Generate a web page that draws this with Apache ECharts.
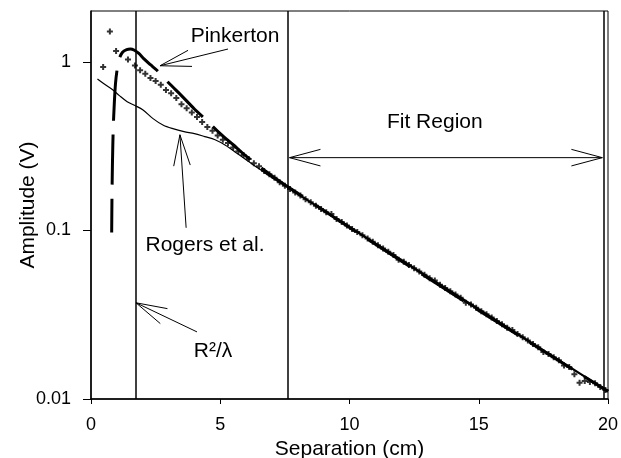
<!DOCTYPE html>
<html>
<head>
<meta charset="utf-8">
<script src="https://cdn.jsdelivr.net/npm/echarts@6/dist/echarts.min.js"></script>
<style>
  html, body { margin: 0; padding: 0; background: #fff; }
  #chart { width: 621px; height: 458px; }
</style>
</head>
<body>
<div id="chart"></div>
<script>
// Measured amplitude versus transmitter/receiver separation
const measuredX = [0.47, 0.73, 0.97, 1.43,
  1.7, 1.9, 2.1, 2.3, 2.5, 2.7, 2.9, 3.1, 3.3, 3.5, 3.7, 3.9, 4.1, 4.3, 4.5, 4.7, 4.9,
  5.1, 5.3, 5.5, 5.7, 5.9, 6.1, 6.3, 6.5, 6.7, 6.9, 7.1, 7.3, 7.5,
  7.7, 7.9, 8.1, 8.3, 8.5, 8.7, 8.9, 9.1, 9.3, 9.5, 9.7, 9.9,
  10.1, 10.3, 10.5, 10.7, 10.9, 11.1, 11.3, 11.5, 11.7, 11.9,
  12.1, 12.3, 12.5, 12.7, 12.9, 13.1, 13.3, 13.5, 13.7, 13.9,
  14.1, 14.3, 14.5, 14.7, 14.9, 15.1, 15.3, 15.5, 15.7, 15.9,
  16.1, 16.3, 16.5, 16.7, 16.9, 17.1, 17.3, 17.5, 17.7, 17.9,
  18.1, 18.3, 18.5, 18.7, 18.9, 19.1, 19.3, 19.5, 19.7, 19.9];
const measuredV = [0.93, 1.51, 1.16, 1.03,
  0.95, 0.89, 0.85, 0.80, 0.77, 0.73, 0.68, 0.65, 0.61, 0.56, 0.53, 0.50, 0.47, 0.44, 0.41, 0.39, 0.365,
  0.345, 0.33, 0.31, 0.295, 0.28, 0.265, 0.25, 0.24, 0.225, 0.215, 0.205, 0.193, 0.184,
  0.176, 0.168, 0.161, 0.153, 0.147, 0.140, 0.134, 0.128, 0.125, 0.117, 0.112, 0.107,
  0.102, 0.0978, 0.0935, 0.0894, 0.0855, 0.0817, 0.0781, 0.0747, 0.0714, 0.0670,
  0.0652, 0.0624, 0.0596, 0.0570, 0.0545, 0.0521, 0.0505, 0.0476, 0.0455, 0.0435,
  0.0416, 0.0398, 0.0372, 0.0364, 0.0348, 0.0332, 0.0318, 0.0304, 0.0290, 0.0278,
  0.0265, 0.0257, 0.0243, 0.0232, 0.0222, 0.0212, 0.0203, 0.0190, 0.0185, 0.0177,
  0.0170, 0.0158, 0.0155, 0.0140, 0.0125, 0.0128, 0.0126, 0.0124, 0.0118, 0.0113];

// Pinkerton near-field model
const pinkertonX = [0.80, 0.81, 0.83, 0.86, 0.90, 0.95, 1.02, 1.10, 1.22, 1.38, 1.52, 1.68, 1.85, 2.05, 2.3, 2.55,
  3.0, 3.5, 4.0, 4.5, 5.0, 5.5, 6.0, 6.5, 7.0, 7.6, 10, 15, 20];
const pinkertonV = [0.097, 0.15, 0.25, 0.40, 0.56, 0.75, 0.92, 1.05, 1.14, 1.18, 1.19, 1.17, 1.12, 1.04, 0.96, 0.89,
  0.75, 0.63, 0.525, 0.445, 0.375, 0.322, 0.276, 0.24, 0.21, 0.182, 0.104, 0.0335, 0.0111];

// Rogers et al. model
const rogersX = [0.25, 0.5, 0.85, 1.1, 1.4, 1.7, 2.0, 2.4, 2.8, 3.2, 3.6, 4.0, 4.4, 4.8, 5.2, 5.6, 6.0, 6.5, 7.0, 7.6, 10, 15, 20];
const rogersV = [0.79, 0.74, 0.68, 0.63, 0.58, 0.55, 0.52, 0.46, 0.42, 0.40, 0.385, 0.375, 0.36, 0.345, 0.32, 0.29, 0.262, 0.232, 0.205, 0.18, 0.104, 0.0335, 0.0111];

// Exponential fit over the fit region
const fitX = [7.6, 20];
const fitV = [0.18, 0.0111];

// Vertical reference lines: R^2/lambda, start and end of fit region
const markerLinesX = [1.74, 7.62, 19.85];

const xTicks = [0, 5, 10, 15, 20];
const yTicks = [0.01, 0.1, 1];

const FONT = '"Liberation Sans", Arial, sans-serif';
const pairs = (xs, vs) => xs.map((x, i) => [x, vs[i]]);

const chart = echarts.init(document.getElementById('chart'), null, { renderer: 'canvas' });

chart.setOption({
  animation: false,
  backgroundColor: '#fff',
  grid: { left: 91, right: 13, top: 11, bottom: 59, containLabel: false, outerBoundsMode: 'none',
    show: true, borderColor: '#000', borderWidth: 1, backgroundColor: 'transparent' },
  xAxis: {
    type: 'value', min: 0, max: 20, interval: 5,
    name: 'Separation (cm)', nameLocation: 'middle', nameGap: 33,
    nameTextStyle: { fontSize: 21, color: '#000', fontFamily: FONT },
    axisLine: { show: true, lineStyle: { color: '#000', width: 1.5 } },
    axisTick: { show: true, inside: false, length: 5, lineStyle: { color: '#000', width: 1 }, customValues: xTicks },
    axisLabel: { fontSize: 18, color: '#000', fontFamily: FONT, margin: 17, customValues: xTicks },
    splitLine: { show: false }
  },
  yAxis: {
    type: 'log', logBase: 10, min: 0.01, max: 2,
    name: 'Amplitude (V)', nameLocation: 'middle', nameGap: 52, nameRotate: 90, nameMoveOverlap: false,
    nameTextStyle: { fontSize: 21, color: '#000', fontFamily: FONT },
    axisLine: { show: true, lineStyle: { color: '#000', width: 1.5 } },
    axisTick: { show: true, inside: false, length: 8, lineStyle: { color: '#000', width: 1 }, customValues: yTicks },
    axisLabel: { fontSize: 18, color: '#000', fontFamily: FONT, margin: 20, customValues: yTicks,
      formatter: v => String(+v.toPrecision(3)) },
    splitLine: { show: false },
    minorTick: { show: false }
  },
  series: [
    {
      name: 'Rogers et al.', type: 'line', data: pairs(rogersX, rogersV),
      symbol: 'none', smooth: 0.3, lineStyle: { color: '#000', width: 1.2 }, z: 3
    },
    {
      name: 'Pinkerton', type: 'line', data: pairs(pinkertonX, pinkertonV),
      symbol: 'none', smooth: 0.3, lineStyle: { color: '#000', width: 3, type: [50, 14], dashOffset: 16 }, z: 4
    },
    {
      name: 'Fit', type: 'line', data: pairs(fitX, fitV),
      symbol: 'none', lineStyle: { color: '#000', width: 2 }, z: 4,
      markLine: {
        silent: true, symbol: ['none', 'none'], label: { show: false },
        lineStyle: { color: '#000', width: 1.5, type: 'solid' },
        data: markerLinesX.map(x => ({ xAxis: x }))
      }
    },
    {
      name: 'Measured', type: 'scatter', data: pairs(measuredX, measuredV),
      symbol: 'path://M2,0H4V2H6V4H4V6H2V4H0V2H2Z', symbolSize: 6,
      itemStyle: { color: '#000' }, z: 5
    }
  ]
});

// Annotation arrows and labels, anchored in data coordinates
const px = (x, v) => chart.convertToPixel({ gridIndex: 0 }, [x, v]);
const lineStyle = { stroke: '#000', lineWidth: 1 };

function barbs(tip, toward, len = 32, half = 15 * Math.PI / 180) {
  const a = Math.atan2(toward[1] - tip[1], toward[0] - tip[0]);
  const b1 = [tip[0] + len * Math.cos(a - half), tip[1] + len * Math.sin(a - half)];
  const b2 = [tip[0] + len * Math.cos(a + half), tip[1] + len * Math.sin(a + half)];
  return { type: 'polyline', shape: { points: [b1, tip, b2] }, style: lineStyle, z: 10 };
}
function shaft(p, q) {
  return { type: 'line', shape: { x1: p[0], y1: p[1], x2: q[0], y2: q[1] }, style: lineStyle, z: 10 };
}
function arrow(tipData, tailData) {
  const tip = px(...tipData), tail = px(...tailData);
  return [shaft(tip, tail), barbs(tip, tail)];
}
function label(text, at) {
  const p = px(...at);
  return { type: 'text', x: p[0], y: p[1], z: 10,
    style: { text, fill: '#000', fontSize: 21, fontFamily: FONT, align: 'center', verticalAlign: 'middle' } };
}

const fitL = px(7.68, 0.27), fitR = px(19.78, 0.27);
chart.setOption({
  graphic: [
    ...arrow([2.67, 0.947], [5.3, 1.19]),
    ...arrow([3.44, 0.369], [3.68, 0.1036]),
    ...arrow([1.74, 0.0372], [4.1, 0.025]),
    shaft(fitL, fitR), barbs(fitL, fitR), barbs(fitR, fitL),
    label('Pinkerton', [5.57, 1.41]),
    label('Fit Region', [13.3, 0.44]),
    label('Rogers et al.', [4.41, 0.0822]),
    label('R²/λ', [4.72, 0.0193])
  ]
});
</script>
</body>
</html>
